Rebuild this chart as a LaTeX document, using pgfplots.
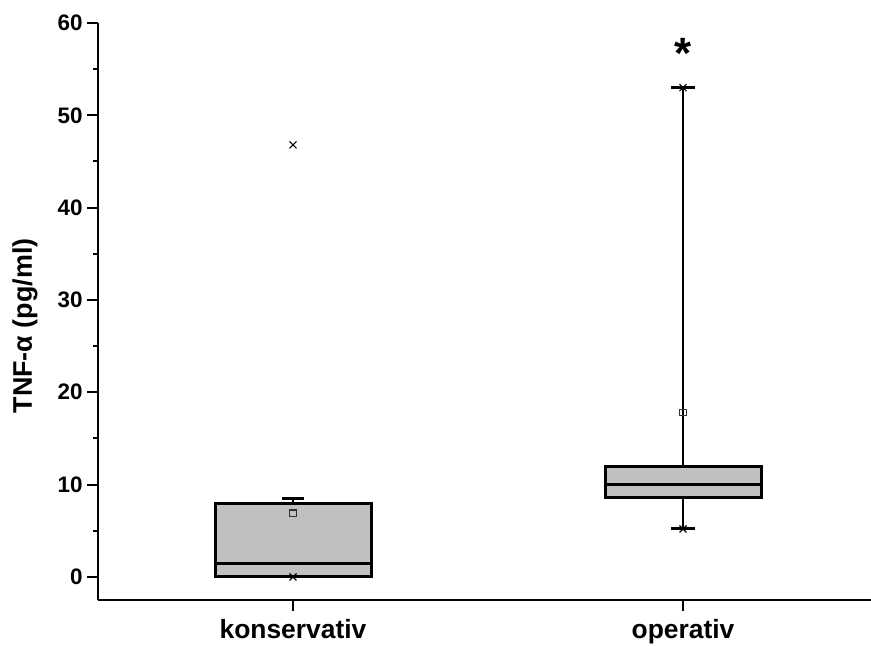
\documentclass[border=0pt]{standalone}
\usepackage{pgfplots}
\pgfplotsset{compat=1.18}
\usepackage{fontspec}
\setmainfont{Liberation Sans}
\definecolor{boxgray}{RGB}{192,192,192}
\begin{document}
\begin{tikzpicture}
\useasboundingbox (0,0) rectangle (871bp,646bp);
\begin{axis}[
  at={(98bp,46bp)}, anchor=south west,
  width=780bp, height=577bp, scale only axis,
  xmin=0.5, xmax=2.5, ymin=-2.5, ymax=60,
  axis x line*=bottom, axis y line*=left,
  axis line style={line width=2bp,-},
  xtick={1,2}, xticklabels={konservativ,operativ},
  ytick={0,10,20,30,40,50,60},
  minor ytick={5,15,25,35,45,55},
  tick align=outside,
  major tick length=11bp, minor tick length=5bp,
  every tick/.style={line width=2bp,black},
  minor tick style={line width=2bp,black},
  /pgf/number format/assume math mode=true,
  yticklabel style={font=\fontsize{22.5}{24}\selectfont\bfseries, xshift=-1bp},
  xticklabel style={font=\fontsize{26.5}{28}\selectfont\bfseries, yshift=-5bp},
  every axis y label/.style={at={(axis description cs:-0.0936,0.475)},rotate=90,anchor=center,font=\fontsize{27}{29}\selectfont\bfseries},
  ylabel={TNF-α (pg/ml)},
  clip=false,
]
% box konservativ
\addplot[draw=black, fill=boxgray, line width=3bp, line join=miter, line cap=rect] coordinates {(0.8,0) (1.2,0) (1.2,8) (0.8,8) (0.8,0)};
\addplot[black, line width=3bp] coordinates {(0.8,1.4) (1.2,1.4)};
\addplot[black, line width=2.8bp] coordinates {(1,8) (1,8.5)};
\addplot[black, line width=3bp] coordinates {(0.972,8.5) (1.028,8.5)};
% box operativ
\addplot[draw=black, fill=boxgray, line width=3bp, line join=miter, line cap=rect] coordinates {(1.8,8.6) (2.2,8.6) (2.2,12) (1.8,12) (1.8,8.6)};
\addplot[black, line width=3bp] coordinates {(1.8,10) (2.2,10)};
\addplot[black, line width=2.8bp] coordinates {(2,12) (2,53)};
\addplot[black, line width=2.8bp] coordinates {(2,8.6) (2,5.2)};
\addplot[black, line width=3bp] coordinates {(1.97,53) (2.03,53)};
\addplot[black, line width=3bp] coordinates {(1.97,5.2) (2.03,5.2)};
% means
\addplot[only marks, mark=square, mark size=3.2bp, mark options={line width=1.2bp, draw=black!80, fill=none}] coordinates {(1,6.9) (2,17.8)};
% min / max markers
\addplot[only marks, mark=x, mark size=5bp, mark options={line width=1.2bp, draw=black}] coordinates {(1,0) (1,46.8) (2,5.2) (2,53)};
\node[anchor=base, font=\fontsize{44}{44}\selectfont\bfseries, inner sep=0pt] at (axis cs:2,55.1) {*};
\end{axis}
\end{tikzpicture}
\end{document}
